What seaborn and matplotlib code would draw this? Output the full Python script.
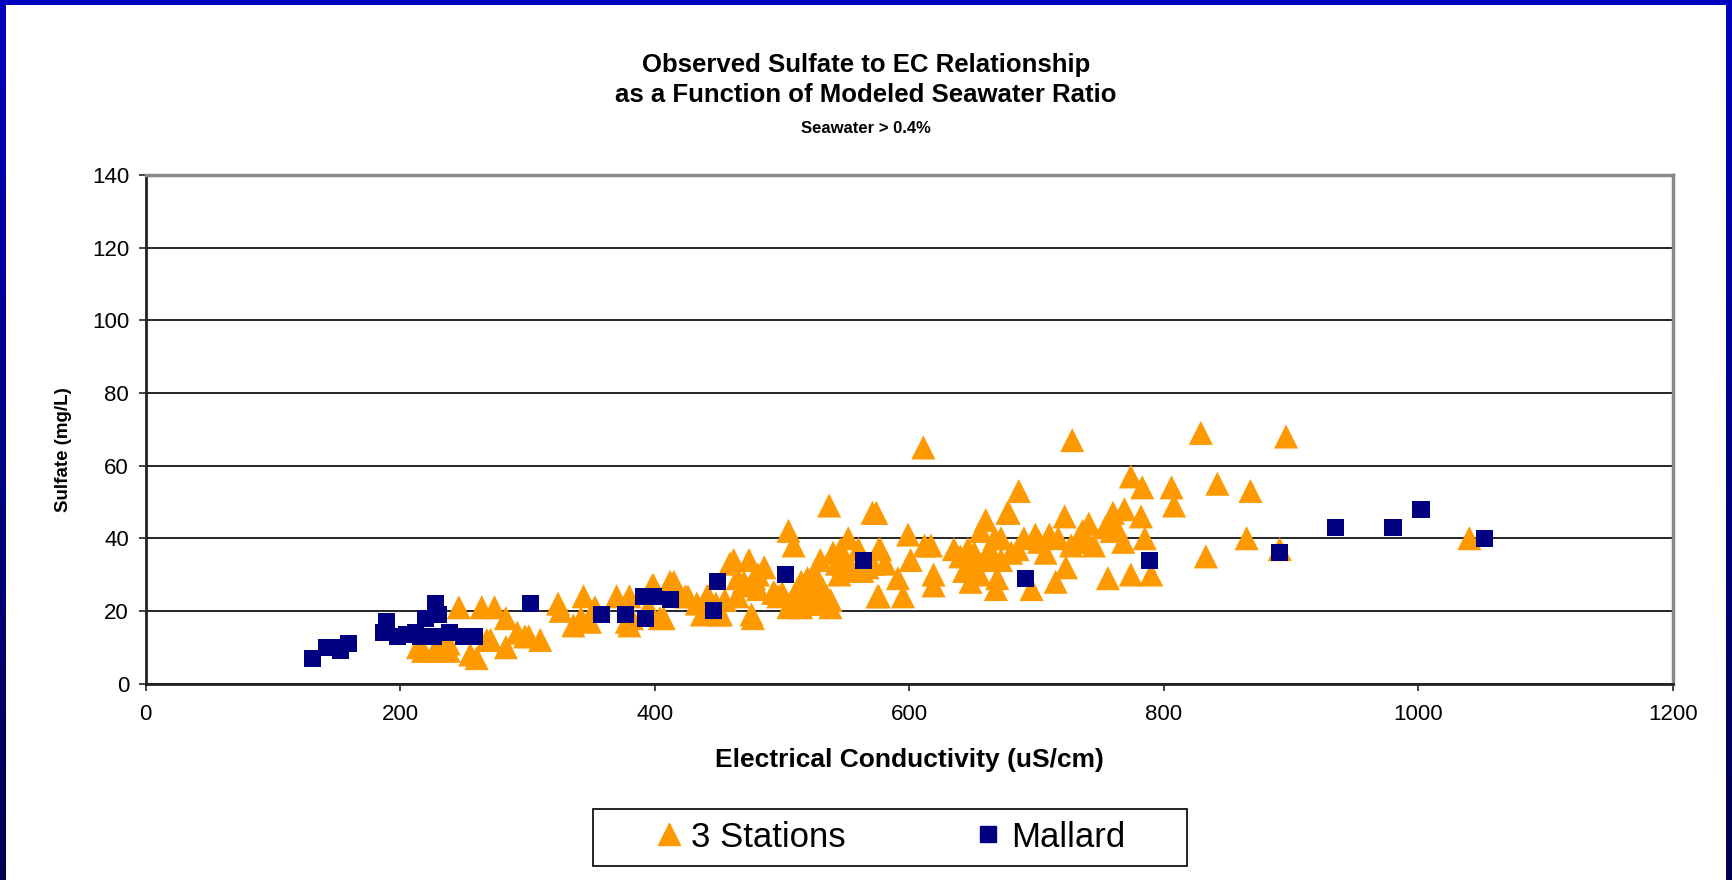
import matplotlib
matplotlib.use("Agg")
import matplotlib.pyplot as plt
import seaborn as sns
import numpy as np
import pandas as pd
from matplotlib.lines import Line2D
from matplotlib.patches import Rectangle
from matplotlib.colors import LinearSegmentedColormap

# 3 Stations (EC uS/cm, sulfate mg/L)
stations_ec = [214, 218, 227, 232, 238, 238, 246, 255, 260, 264,
               268, 271, 274, 283, 283, 292, 298, 301, 310, 324,
               326, 336, 342, 344, 349, 353, 370, 378, 380, 382,
               380, 398, 399, 404, 407, 412, 415, 424, 426, 437,
               441, 442, 448, 449, 452, 459, 462, 465, 465, 469,
               474, 476, 477, 478, 481, 481, 486, 493, 494, 497,
               505, 508, 509, 515, 517, 520, 526, 528, 528, 530,
               535, 537, 540, 546, 552, 553, 554, 567, 571, 571,
               574, 575, 576, 577, 576, 581, 591, 595, 599, 601,
               611, 612, 617, 619, 619, 635, 643, 646, 648, 651,
               656, 660, 661, 667, 669, 668, 672, 672, 677, 678,
               685, 686, 696, 699, 707, 710, 715, 717, 722, 723,
               727, 728, 736, 740, 741, 754, 756, 758, 759, 760,
               764, 768, 769, 774, 774, 782, 783, 785, 790, 806,
               808, 829, 833, 842, 865, 868, 891, 896, 1040,
               500, 512, 522, 532, 538, 518, 525, 530, 543, 548,
               560, 563, 545, 505, 515, 538, 650, 663, 680, 690,
               640, 655, 702, 733, 745, 395, 418, 433, 455, 470]
stations_so4 = [10, 9, 9, 10, 9, 11, 21, 8, 7, 21,
                12, 12, 21, 18, 10, 14, 13, 13, 12, 22,
                20, 16, 18, 24, 17, 21, 24, 17, 24, 18,
                16, 27, 27, 18, 18, 28, 28, 24, 24, 19,
                24, 24, 22, 19, 19, 33, 34, 29, 24, 27,
                34, 19, 18, 29, 26, 30, 32, 25, 25, 24,
                42, 23, 38, 28, 25, 29, 30, 24, 23, 34,
                24, 49, 36, 37, 40, 31, 32, 32, 33, 47,
                47, 24, 37, 37, 24, 33, 29, 24, 41, 34,
                65, 38, 38, 30, 27, 37, 31, 37, 28, 36,
                42, 45, 34, 40, 29, 26, 40, 34, 47, 47,
                37, 53, 26, 41, 36, 41, 28, 40, 46, 32,
                38, 67, 42, 39, 44, 43, 29, 45, 42, 47,
                42, 39, 48, 30, 57, 46, 54, 40, 30, 54,
                49, 69, 35, 55, 40, 53, 37, 68, 40,
                25, 26, 27, 26, 23, 22, 22, 22, 33, 35,
                37, 31, 30, 21, 21, 21, 32, 37, 36, 40,
                35, 30, 39, 40, 38, 21, 25, 22, 23, 28]

# Mallard
mallard_ec = [131, 142, 147, 153, 159, 187, 189, 198, 205, 212,
              216, 220, 226, 228, 230, 239, 250, 258, 302, 358,
              377, 391, 393, 399, 412, 446, 449, 503, 564, 691,
              789, 891, 935, 980, 1002, 1052]
mallard_so4 = [7, 10, 10, 9, 11, 14, 17, 13, 13.5, 14,
               13, 18, 13, 22, 19, 14, 13, 13, 22, 19,
               19, 24, 18, 24, 23, 20, 28, 30, 34, 29,
               34, 36, 43, 43, 48, 40]

x_ticks = [0, 200, 400, 600, 800, 1000, 1200]
y_ticks = [0, 20, 40, 60, 80, 100, 120, 140]

ORANGE = "#FF9900"
NAVY = "#000080"

sns.set_style("white")
plt.rcParams["font.family"] = ["Liberation Sans", "DejaVu Sans"]
plt.rcParams["text.color"] = "black"
plt.rcParams["axes.labelcolor"] = "black"

df_st = pd.DataFrame({"ec": stations_ec, "so4": stations_so4})
df_ma = pd.DataFrame({"ec": mallard_ec, "so4": mallard_so4})

fig = plt.figure(figsize=(17.32, 8.8), dpi=100)
fig.patch.set_facecolor("white")
ax = fig.add_axes([145.7 / 1732, 1 - 683.5 / 880, (1673 - 145.7) / 1732, (683.5 - 175) / 880])

sns.scatterplot(data=df_st, x="ec", y="so4", marker="^", s=300, color=ORANGE,
                edgecolor="none", linewidth=0, ax=ax, zorder=3)
sns.scatterplot(data=df_ma, x="ec", y="so4", marker="s", s=150, color=NAVY,
                edgecolor="none", linewidth=0, ax=ax, zorder=4)

ax.set_xlim(0, 1200)
ax.set_ylim(0, 140)
ax.set_xticks(x_ticks)
ax.set_yticks(y_ticks)
ax.set_axisbelow(True)
ax.yaxis.grid(True, color="black", linewidth=1.2)
ax.xaxis.grid(False)
ax.tick_params(axis="both", labelsize=16, direction="out", length=5, width=1.2,
               color="#222222", labelcolor="black", left=True, bottom=True)
ax.tick_params(axis="x", pad=10)
ax.tick_params(axis="y", pad=7)
for side in ["top", "right"]:
    ax.spines[side].set_color("#888888")
    ax.spines[side].set_linewidth(2.5)
for side in ["left", "bottom"]:
    ax.spines[side].set_color("#222222")
    ax.spines[side].set_linewidth(2)

ax.set_xlabel("Electrical Conductivity (uS/cm)", fontsize=19, fontweight="bold")
ax.xaxis.set_label_coords(0.5, -(760 - 683.5) / (683.5 - 175), transform=ax.transAxes)
ax.xaxis.label.set_va("center")
ax.set_ylabel("Sulfate (mg/L)", fontsize=13.5, fontweight="bold")
ax.yaxis.set_label_coords(-(145.7 - 63) / (1673 - 145.7), 0.46, transform=ax.transAxes)
ax.yaxis.label.set_va("center")

fig.text(0.5, 1 - 65 / 880, "Observed Sulfate to EC Relationship", ha="center", va="center",
         fontsize=18.5, fontweight="bold")
fig.text(0.5, 1 - 95 / 880, "as a Function of Modeled Seawater Ratio", ha="center", va="center",
         fontsize=18.5, fontweight="bold")
fig.text(0.5, 1 - 128 / 880, "Seawater > 0.4%", ha="center", va="center",
         fontsize=12, fontweight="bold")

# legend box
fig.patches.append(Rectangle((593 / 1732, 1 - 866 / 880), 594 / 1732, 57 / 880,
                             transform=fig.transFigure, facecolor="white",
                             edgecolor="black", linewidth=1.2))
handles = [Line2D([], [], marker="^", color=ORANGE, linestyle="none", markersize=16),
           Line2D([], [], marker="s", color=NAVY, linestyle="none", markersize=12)]
fig.legend(handles, ["3 Stations", "Mallard"], loc="center", bbox_to_anchor=(890 / 1732, 1 - 837 / 880),
           ncol=2, frameon=False, fontsize=25, handlelength=0.8, handletextpad=0.25,
           columnspacing=3.7)

# blue frame around the slide
cmap = LinearSegmentedColormap.from_list("frame", ["#0000C0", "#000050"])
grad = np.linspace(0, 1, 256).reshape(-1, 1)
for x0 in [0, 1726 / 1732]:
    bax = fig.add_axes([x0, 0, 6 / 1732, 1])
    bax.imshow(grad, aspect="auto", cmap=cmap)
    bax.axis("off")
tax = fig.add_axes([0, 1 - 5 / 880, 1, 5 / 880])
tax.set_facecolor("#0000C0")
tax.set_xticks([])
tax.set_yticks([])
for s in tax.spines.values():
    s.set_visible(False)

fig.savefig("out.png", dpi=100)
